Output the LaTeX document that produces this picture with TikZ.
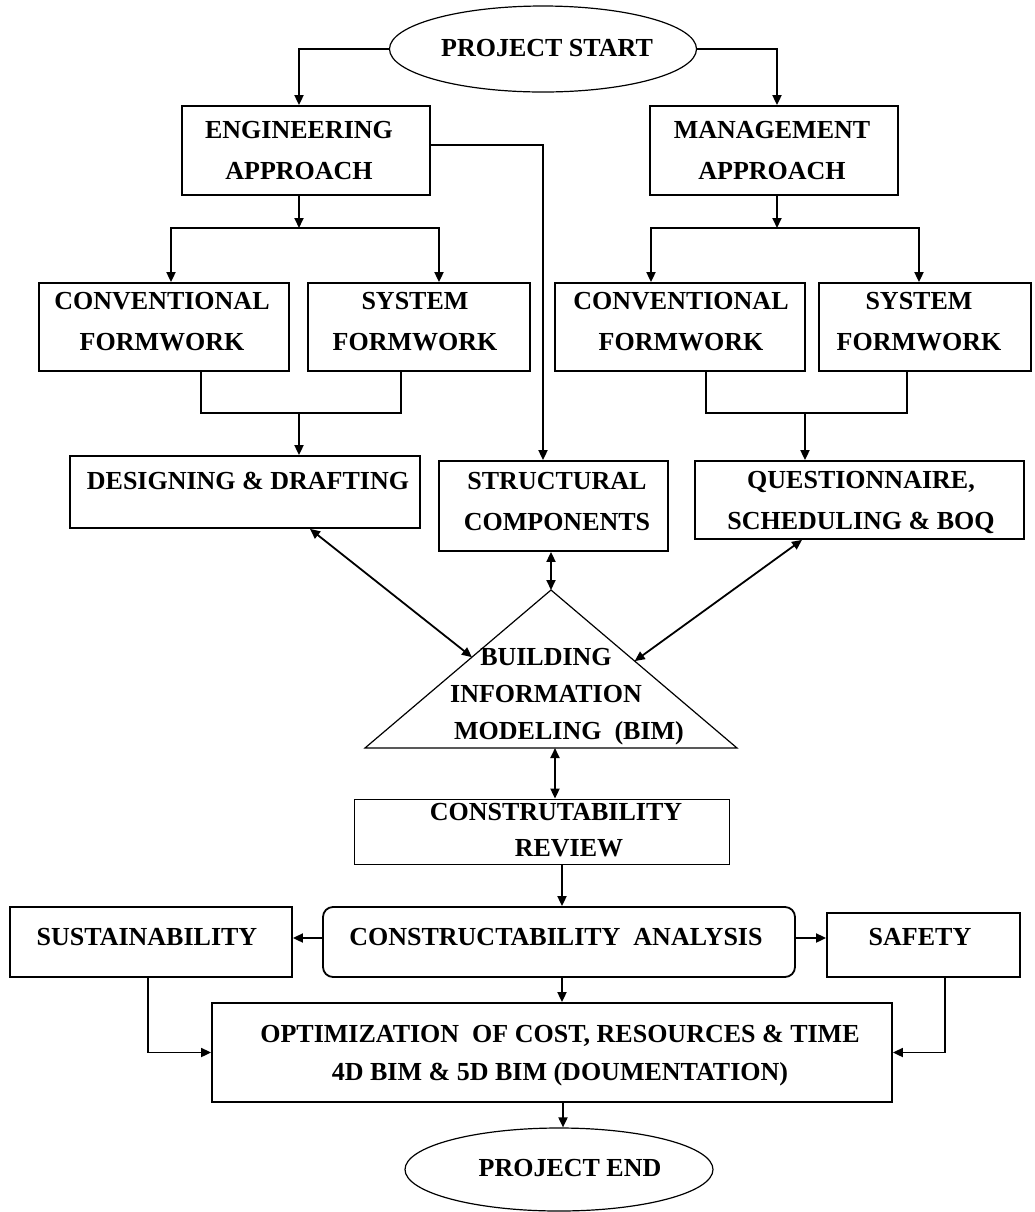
\documentclass[tikz,border=0pt]{standalone}
\usepackage{fontspec}
\setmainfont{Liberation Serif}
\usetikzlibrary{arrows.meta,calc,shapes.geometric}
\begin{document}
\begin{tikzpicture}[x=0.5pt,y=-0.5pt,
  box/.style={draw,line width=0.9pt,inner sep=0pt},
  oval/.style={draw,ellipse,line width=0.6pt,inner sep=0pt},
  txt/.style={font=\fontsize{13}{20.5}\selectfont\bfseries,align=center,inner sep=0pt},
  ln/.style={line width=0.9pt},
  arr/.style={line width=0.9pt,-{Triangle[length=5pt,width=4.5pt]}},
  darr/.style={line width=0.9pt,{Triangle[length=5pt,width=4.5pt]}-{Triangle[length=5pt,width=4.5pt]}}]
\fill[white] (0,0) rectangle (1035,1212);
\useasboundingbox (0,0) rectangle (1035,1212);

% start
\node[oval,minimum width=153.5pt,minimum height=43pt] (start) at (543,49) {};
\node[txt] (startT) at (547,48) {PROJECT START};

% approaches
\node[box,minimum width=124pt,minimum height=44.5pt] (eng) at (306,150.5) {};
\node[txt] (engT) at (299,151) {ENGINEERING\\APPROACH};
\node[box,minimum width=124pt,minimum height=44.5pt] (mgmt) at (774,150.5) {};
\node[txt] (mgmtT) at (772,151) {MANAGEMENT\\APPROACH};

% formwork boxes
\node[box,minimum width=125pt,minimum height=44pt] (convL) at (164,327) {};
\node[txt] (convLT) at (162,322) {CONVENTIONAL\\FORMWORK};
\node[box,minimum width=111pt,minimum height=44pt] (sysL) at (419,327) {};
\node[txt] (sysLT) at (415,322) {SYSTEM\\FORMWORK};
\node[box,minimum width=125pt,minimum height=44pt] (convR) at (680,327) {};
\node[txt] (convRT) at (681,322) {CONVENTIONAL\\FORMWORK};
\node[box,minimum width=106pt,minimum height=44pt] (sysR) at (925,327) {};
\node[txt] (sysRT) at (919,322) {SYSTEM\\FORMWORK};

% second level
\node[box,minimum width=175pt,minimum height=36pt] (dd) at (245,492) {};
\node[txt] (ddT) at (248,481) {DESIGNING \& DRAFTING};
\node[box,minimum width=114.5pt,minimum height=45pt] (sc) at (553.5,506) {};
\node[txt] (scT) at (557,502) {STRUCTURAL\\COMPONENTS};
\node[box,minimum width=164.5pt,minimum height=39pt] (q) at (859.5,500) {};
\node[txt] (qT) at (861,502.5) {QUESTIONNAIRE,\\SCHEDULING \& BOQ};

% BIM triangle
\coordinate (bimL) at (365,748);
\coordinate (bimT) at (551,590);
\coordinate (bimR) at (737,748);
\draw[line width=0.6pt] (bimL) -- (bimT) -- (bimR) -- cycle;
\node[txt,font=\fontsize{13}{18.5}\selectfont\bfseries] (bim) at (546,697)
  {BUILDING\\INFORMATION\\\hspace*{23pt}MODELING~~(BIM)};

% review
\node[box,minimum width=187.5pt,minimum height=32.5pt] (rv) at (542,832) {};
\node[txt,font=\fontsize{13}{18}\selectfont\bfseries] (rvT) at (556,830) {CONSTRUTABILITY\\\hspace*{13pt}REVIEW};

% analysis row
\node[box,rounded corners=5pt,minimum width=236pt,minimum height=35pt] (ca) at (559,942) {};
\node[txt] (caT) at (556,937) {CONSTRUCTABILITY~~ANALYSIS};
\node[box,minimum width=141pt,minimum height=35pt] (sus) at (151,942) {};
\node[txt] (susT) at (147,937) {SUSTAINABILITY};
\node[box,minimum width=96.5pt,minimum height=32pt] (safe) at (923.5,945) {};
\node[txt] (safeT) at (920,937) {SAFETY};

% optimization
\node[box,minimum width=340pt,minimum height=49.5pt] (opt) at (552,1052.5) {};
\node[txt,font=\fontsize{13}{19}\selectfont\bfseries] (optT) at (560,1056)
  {OPTIMIZATION~ OF COST, RESOURCES \& TIME\\4D BIM \& 5D BIM (DOUMENTATION)};

% end
\node[oval,minimum width=154pt,minimum height=41.5pt] (end) at (559,1169.5) {};
\node[txt] (endT) at (570,1168) {PROJECT END};

% connectors
\draw[arr] (start.west) -| ([xshift=-3.5pt]eng.north);
\draw[arr] (start.east) -| ([xshift=1.5pt]mgmt.north);

\coordinate (es) at (299,228);
\draw[arr] ([xshift=-3.5pt]eng.south) -- (es);
\draw[arr] (es) -| ([xshift=3.5pt]convL.north);
\draw[arr] (es) -| ([xshift=10pt]sysL.north);

\coordinate (ms) at (777,228);
\draw[arr] ([xshift=1.5pt]mgmt.south) -- (ms);
\draw[arr] (ms) -| ([xshift=-14.5pt]convR.north);
\draw[arr] (ms) -| ([xshift=-3pt]sysR.north);

\coordinate (ej) at (299,413);
\draw[ln] ([xshift=18.5pt]convL.south) |- (ej);
\draw[ln] ([xshift=-9pt]sysL.south) |- (ej);
\draw[arr] (ej) -- (ej |- dd.north);

\coordinate (mj) at (805,413);
\draw[ln] ([xshift=13pt]convR.south) |- (mj);
\draw[ln] ([xshift=-9pt]sysR.south) |- (mj);
\draw[arr] (mj) -- (mj |- q.north);

\draw[arr] ([yshift=2.75pt]eng.east) -| ([xshift=-5.25pt]sc.north);

\draw[darr] ([xshift=32.5pt]dd.south) -- ($(bimL)!0.575!(bimT)$);
\draw[darr] ([xshift=-28.75pt]q.south) -- ($(bimT)!0.45!(bimR)$);
\draw[darr] (sc.south -| bimT) -- (bimT);
\draw[darr] ([xshift=6.5pt]rv.north |- bimL) -- ([xshift=6.5pt]rv.north);

\draw[arr] ([xshift=10pt]rv.south) -- ([xshift=10pt]rv.south |- ca.north);
\draw[arr] ([yshift=2pt]ca.west) -- ([yshift=2pt]ca.west -| sus.east);
\draw[arr] ([yshift=2pt]ca.east) -- ([yshift=2pt]ca.east -| safe.west);
\draw[arr] ([xshift=1.5pt]ca.south) -- ([xshift=1.5pt]ca.south |- opt.north);
\draw[arr] ([xshift=-1.5pt]sus.south) |- (opt.west);
\draw[arr] ([xshift=10.75pt]safe.south) |- (opt.east);
\draw[arr] ([xshift=5.5pt]opt.south) -- ([xshift=5.5pt]opt.south |- end.north);
\end{tikzpicture}
\end{document}
